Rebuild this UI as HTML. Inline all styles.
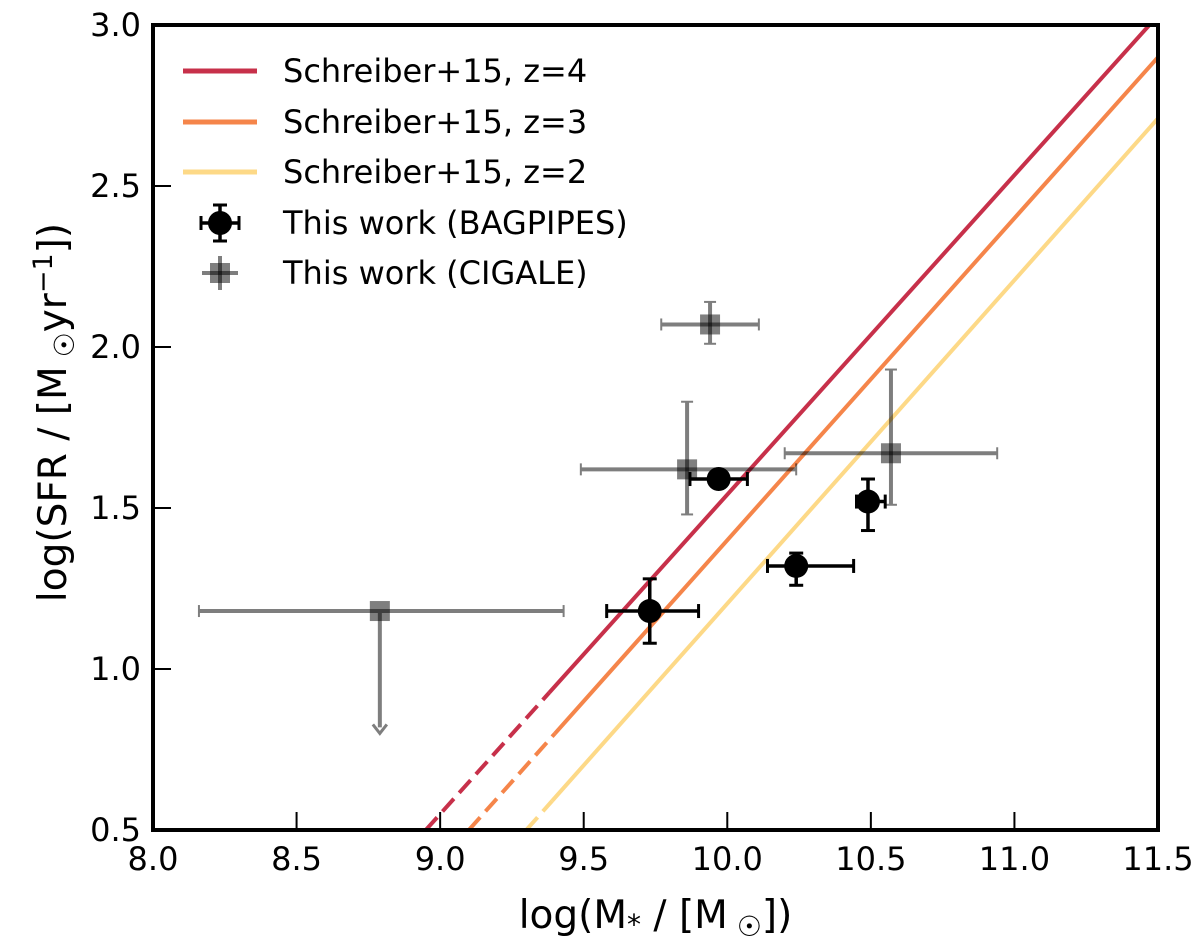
<!DOCTYPE html>
<html><head><meta charset="utf-8"><style>
body{margin:0;background:#fff}
svg text{font-family:"DejaVu Sans","Liberation Sans",sans-serif;fill:#000}
</style></head><body>
<svg id="chart" width="1200" height="943" viewBox="0 0 1200 943" xmlns="http://www.w3.org/2000/svg">
<g id="plot"></g>
<g id="axes"></g>
</svg>
<script>
const xTicks=[8.0,8.5,9.0,9.5,10.0,10.5,11.0,11.5];
const yTicks=[0.5,1.0,1.5,2.0,2.5,3.0];
const lineNames=["Schreiber+15, z=4","Schreiber+15, z=3","Schreiber+15, z=2"];
const lineColors=["#c7304a","#f5854a","#fdd987"];
const lineX0=[8.95,9.10,9.30];
const lineX1=[11.47,11.5,11.5];
const lineY1=[3.0,2.90,2.71];
const lineDashEnd=[9.38,9.40,9.39];
const bpX=[9.73,9.97,10.24,10.49];
const bpY=[1.18,1.59,1.32,1.52];
const bpXlo=[9.58,9.87,10.14,10.45];
const bpXhi=[9.90,10.07,10.44,10.55];
const bpYlo=[1.08,1.57,1.26,1.43];
const bpYhi=[1.28,1.61,1.36,1.59];
const cgX=[8.79,9.94,9.86,10.57];
const cgY=[1.18,2.07,1.62,1.67];
const cgXlo=[8.16,9.77,9.49,10.20];
const cgXhi=[9.43,10.11,10.24,10.94];
const cgYlo=[0.80,2.01,1.48,1.51];
const cgYhi=[1.18,2.14,1.83,1.93];
const cgUpper=[true,false,false,false];

const L=153,R=1158,T=25,B=830;
const X=v=>L+(v-8)/3.5*(R-L);
const Y=v=>B-(v-0.5)/2.5*(B-T);
const NS="http://www.w3.org/2000/svg";
const plot=document.getElementById('plot'),axes=document.getElementById('axes');
function mk(tag,attrs,parent){const e=document.createElementNS(NS,tag);for(const k in attrs)e.setAttribute(k,attrs[k]);parent.appendChild(e);return e;}
const clip=mk('clipPath',{id:'pc'},plot);mk('rect',{x:L,y:T,width:R-L,height:B-T},clip);
const g=mk('g',{'clip-path':'url(#pc)'},plot);


lineNames.forEach((n,i)=>{
 const s=(lineY1[i]-0.5)/(lineX1[i]-lineX0[i]);
 const f=x=>0.5+(x-lineX0[i])*s;
 const d=mk('line',{x1:X(lineX0[i]),y1:Y(0.5),x2:X(lineDashEnd[i]),y2:Y(f(lineDashEnd[i])),stroke:lineColors[i],'stroke-width':4,'stroke-dasharray':'17,8'},g);
 
 
 const l=mk('line',{x1:X(lineDashEnd[i]),y1:Y(f(lineDashEnd[i])),x2:X(lineX1[i]),y2:Y(lineY1[i]),stroke:lineColors[i],'stroke-width':4},g);
 
 
});
cgX.forEach((x,i)=>{
 const gg=mk('g',{},g);
 
 
 const eb=mk('g',{opacity:0.5},gg);
 mk('line',{x1:X(cgXlo[i]),y1:Y(cgY[i]),x2:X(cgXhi[i]),y2:Y(cgY[i]),stroke:'#000','stroke-width':4},eb);
 mk('line',{x1:X(cgXlo[i]),y1:Y(cgY[i])-6,x2:X(cgXlo[i]),y2:Y(cgY[i])+6,stroke:'#000','stroke-width':2},eb);
 mk('line',{x1:X(cgXhi[i]),y1:Y(cgY[i])-6,x2:X(cgXhi[i]),y2:Y(cgY[i])+6,stroke:'#000','stroke-width':2},eb);
 const eb2=mk('g',{opacity:0.5},gg);
 if(cgUpper[i]){
  mk('line',{x1:X(x),y1:Y(cgY[i])+2,x2:X(x),y2:Y(cgYlo[i])-6,stroke:'#000','stroke-width':4},eb2);
  mk('path',{d:`M${X(x)-7},${Y(cgYlo[i])-9} L${X(x)},${Y(cgYlo[i])} L${X(x)+7},${Y(cgYlo[i])-9}`,stroke:'#000','stroke-width':3,fill:'none'},eb2);
 }else{
  mk('line',{x1:X(x),y1:Y(cgYlo[i]),x2:X(x),y2:Y(cgYhi[i]),stroke:'#000','stroke-width':4},eb2);
  mk('line',{x1:X(x)-6,y1:Y(cgYlo[i]),x2:X(x)+6,y2:Y(cgYlo[i]),stroke:'#000','stroke-width':2},eb2);
  mk('line',{x1:X(x)-6,y1:Y(cgYhi[i]),x2:X(x)+6,y2:Y(cgYhi[i]),stroke:'#000','stroke-width':2},eb2);
 }
 mk('rect',{x:X(x)-10,y:Y(cgY[i])-10,width:20,height:20,fill:'#000',opacity:0.5},gg);
});
bpX.forEach((x,i)=>{
 const gg=mk('g',{},g);
 
 
 mk('line',{x1:X(bpXlo[i]),y1:Y(bpY[i]),x2:X(bpXhi[i]),y2:Y(bpY[i]),stroke:'#000','stroke-width':3.5},gg);
 mk('line',{x1:X(bpXlo[i]),y1:Y(bpY[i])-7,x2:X(bpXlo[i]),y2:Y(bpY[i])+7,stroke:'#000','stroke-width':3},gg);
 mk('line',{x1:X(bpXhi[i]),y1:Y(bpY[i])-7,x2:X(bpXhi[i]),y2:Y(bpY[i])+7,stroke:'#000','stroke-width':3},gg);
 mk('line',{x1:X(x),y1:Y(bpYlo[i]),x2:X(x),y2:Y(bpYhi[i]),stroke:'#000','stroke-width':3.5},gg);
 mk('line',{x1:X(x)-7,y1:Y(bpYlo[i]),x2:X(x)+7,y2:Y(bpYlo[i]),stroke:'#000','stroke-width':3},gg);
 mk('line',{x1:X(x)-7,y1:Y(bpYhi[i]),x2:X(x)+7,y2:Y(bpYhi[i]),stroke:'#000','stroke-width':3},gg);
 mk('circle',{cx:X(x),cy:Y(bpY[i]),r:12,fill:'#000'},gg);
});
const fr=mk('rect',{x:L,y:T,width:R-L,height:B-T,fill:'none',stroke:'#000','stroke-width':4},axes);


xTicks.forEach(v=>{
 mk('line',{x1:X(v),y1:B,x2:X(v),y2:B-18,stroke:'#000','stroke-width':2},axes);
 const t=mk('text',{x:X(v),y:B+40,'font-size':32,'text-anchor':'middle'},axes);t.textContent=v.toFixed(1);
 
 
});
yTicks.forEach(v=>{
 mk('line',{x1:L,y1:Y(v),x2:L+18,y2:Y(v),stroke:'#000','stroke-width':2},axes);
 const t=mk('text',{x:L-12,y:Y(v)+11,'font-size':32,'text-anchor':'end'},axes);t.textContent=v.toFixed(1);
 
 
});
const lg=mk('g',{},axes);


const ly=[71,122,172,223,273];
lineNames.forEach((n,i)=>{
 mk('line',{x1:183,y1:ly[i],x2:257,y2:ly[i],stroke:lineColors[i],'stroke-width':5},lg);
 const t=mk('text',{x:283,y:ly[i]+11,'font-size':32},lg);t.textContent=n;
 
 
});
(function(){const y=ly[3],x=220;
 mk('line',{x1:x-19,y1:y,x2:x+19,y2:y,stroke:'#000','stroke-width':3.5},lg);
 mk('line',{x1:x-19,y1:y-7,x2:x-19,y2:y+7,stroke:'#000','stroke-width':3},lg);
 mk('line',{x1:x+19,y1:y-7,x2:x+19,y2:y+7,stroke:'#000','stroke-width':3},lg);
 mk('line',{x1:x,y1:y-18,x2:x,y2:y+18,stroke:'#000','stroke-width':3.5},lg);
 mk('line',{x1:x-7,y1:y-18,x2:x+7,y2:y-18,stroke:'#000','stroke-width':3},lg);
 mk('line',{x1:x-7,y1:y+18,x2:x+7,y2:y+18,stroke:'#000','stroke-width':3},lg);
 mk('circle',{cx:x,cy:y,r:12,fill:'#000'},lg);
 const y2=ly[4];
 mk('line',{x1:x-18,y1:y2,x2:x+18,y2:y2,stroke:'#000','stroke-width':4,opacity:0.5},lg);
 mk('line',{x1:x,y1:y2-17,x2:x,y2:y2+17,stroke:'#000','stroke-width':4,opacity:0.5},lg);
 mk('rect',{x:x-10,y:y2-10,width:20,height:20,fill:'#000',opacity:0.5},lg);
 [["This work (BAGPIPES)",y],["This work (CIGALE)",y2]].forEach(([s,yy])=>{const t=mk('text',{x:283,y:yy+11,'font-size':32},lg);t.textContent=s;
 
 });
})();
const xt=mk('text',{x:(L+R)/2,y:928,'font-size':39,'text-anchor':'middle'},axes);
xt.innerHTML='log(M<tspan font-size="28" dy="6">*</tspan><tspan dy="-6"> / [M</tspan><tspan font-size="28" dy="8"> ☉</tspan><tspan dy="-8">])</tspan>';


const yt=mk('text',{x:0,y:0,'font-size':39,'text-anchor':'middle',transform:`translate(66,${(T+B)/2-15}) rotate(-90)`},axes);
yt.innerHTML='log(SFR / [M<tspan font-size="28" dy="8"> ☉</tspan><tspan dy="-8">yr</tspan><tspan font-size="27" dy="-14">−1</tspan><tspan dy="14">])</tspan>';


</script>
</body></html>
